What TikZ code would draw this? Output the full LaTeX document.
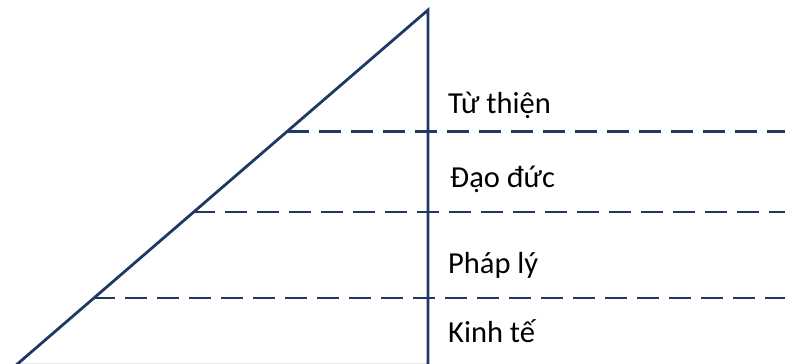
\documentclass[tikz,border=0pt]{standalone}
\usepackage{fontspec}
\setmainfont{Carlito}
\definecolor{navy}{HTML}{1F3864}
\begin{document}
\begin{tikzpicture}[x=1pt,y=-1pt,
  edge/.style={draw=navy,line width=2.8pt},
  level/.style={draw=navy,line width=2.8pt,dash pattern=on 22pt off 10pt},
  lbl/.style={anchor=base west,inner sep=0pt,font=\fontsize{30.5}{36}\selectfont,text=black}]
\useasboundingbox (0,0) rectangle (785,364);
\coordinate (A) at (428,10);
\coordinate (B) at (16,365.2);
\coordinate (C) at (428,365.2);
\draw[edge,line join=miter] (B) -- (A) -- (C) -- cycle;
\coordinate (L1) at (286.6,131.5);
\coordinate (R1) at (785,131.5);
\coordinate (L2) at (193,212);
\coordinate (R2) at (785,212);
\coordinate (L3) at (93,298);
\coordinate (R3) at (785,298);
\draw[level] (L1) -- (R1);
\draw[level] (L2) -- (R2);
\draw[level] (L3) -- (R3);
\node[lbl] (t1) at (448,113) {Từ thiện};
\node[lbl] (t2) at (450,187) {Đạo đức};
\node[lbl] (t3) at (448,273) {Pháp lý};
\node[lbl] (t4) at (448,342) {Kinh tế};
\end{tikzpicture}
\end{document}
